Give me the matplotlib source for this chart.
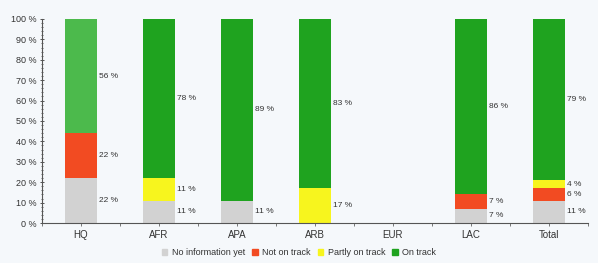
import matplotlib
matplotlib.use("Agg")
import matplotlib.pyplot as plt
import numpy as np
from matplotlib.ticker import MultipleLocator, FixedLocator

plt.rcParams["font.family"] = ["Liberation Sans", "DejaVu Sans"]

categories = ["HQ", "AFR", "APA", "ARB", "EUR", "LAC", "Total"]
no_info = [22, 11, 11, 0, 0, 7, 11]
not_on_track = [22, 0, 0, 0, 0, 7, 6]
partly = [0, 11, 0, 17, 0, 0, 4]
on_track = [56, 78, 89, 83, 0, 86, 79]
series_names = ["No information yet", "Not on track", "Partly on track", "On track"]

colors = ["#d2d2d2", "#f24b22", "#f7f51e", "#1fa31f"]
hq_green = "#4cba4c"
bg = "#f5f8fb"

fig = plt.figure(figsize=(5.98, 2.63), dpi=100, facecolor=bg)
ax = fig.add_axes([0.0702, 0.152, 0.9128, 0.776], facecolor=bg)

x = np.arange(len(categories))
w = 0.41
bottom = np.zeros(len(categories))
series = [no_info, not_on_track, partly, on_track]
for si, vals in enumerate(series):
    vals = np.array(vals, dtype=float)
    cols = [colors[si]] * len(categories)
    if si == 3:
        cols[0] = hq_green
    ax.bar(x, vals, w, bottom=bottom, color=cols, edgecolor="none", zorder=2)
    for i, v in enumerate(vals):
        if v > 0:
            ax.text(x[i] + w / 2 + 0.03, bottom[i] + v / 2, f"{int(v)} %",
                    fontsize=6, color="#333333", va="center", ha="left")
    bottom += vals

ax.set_xlim(-0.5, len(categories) - 0.5)
ax.set_ylim(0, 100)
ax.set_yticks(np.arange(0, 101, 10))
ax.set_yticklabels([f"{v} %" for v in range(0, 101, 10)])
ax.yaxis.set_minor_locator(MultipleLocator(2))
ax.set_xticks(x)
ax.set_xticklabels(categories)
ax.xaxis.set_minor_locator(FixedLocator(np.arange(-0.5, len(categories), 1.0)))

for s in ["top", "right"]:
    ax.spines[s].set_visible(False)
for s in ["left", "bottom"]:
    ax.spines[s].set_color("#555555")
    ax.spines[s].set_linewidth(0.8)

ax.tick_params(axis="y", which="major", length=3, width=0.7, colors="#555555",
               labelsize=6.5, labelcolor="#333333", direction="inout", pad=2)
ax.tick_params(axis="y", which="minor", length=2, width=0.6, colors="#555555", direction="inout")
ax.tick_params(axis="x", which="major", length=2, width=0.7, colors="#777777",
               labelsize=7, labelcolor="#333333", direction="out", pad=3)
ax.tick_params(axis="x", which="minor", length=2, width=0.7, colors="#777777", direction="out")

handles = [plt.Rectangle((0, 0), 1, 1, color=c) for c in colors]
fig.legend(handles, series_names, loc="center", bbox_to_anchor=(0.5, 0.04), ncol=4,
           frameon=False, fontsize=6.5, handlelength=0.6, handleheight=0.6,
           handletextpad=0.5, columnspacing=0.8, labelcolor="#333333")

fig.savefig("out.png", dpi=100, facecolor=bg)
